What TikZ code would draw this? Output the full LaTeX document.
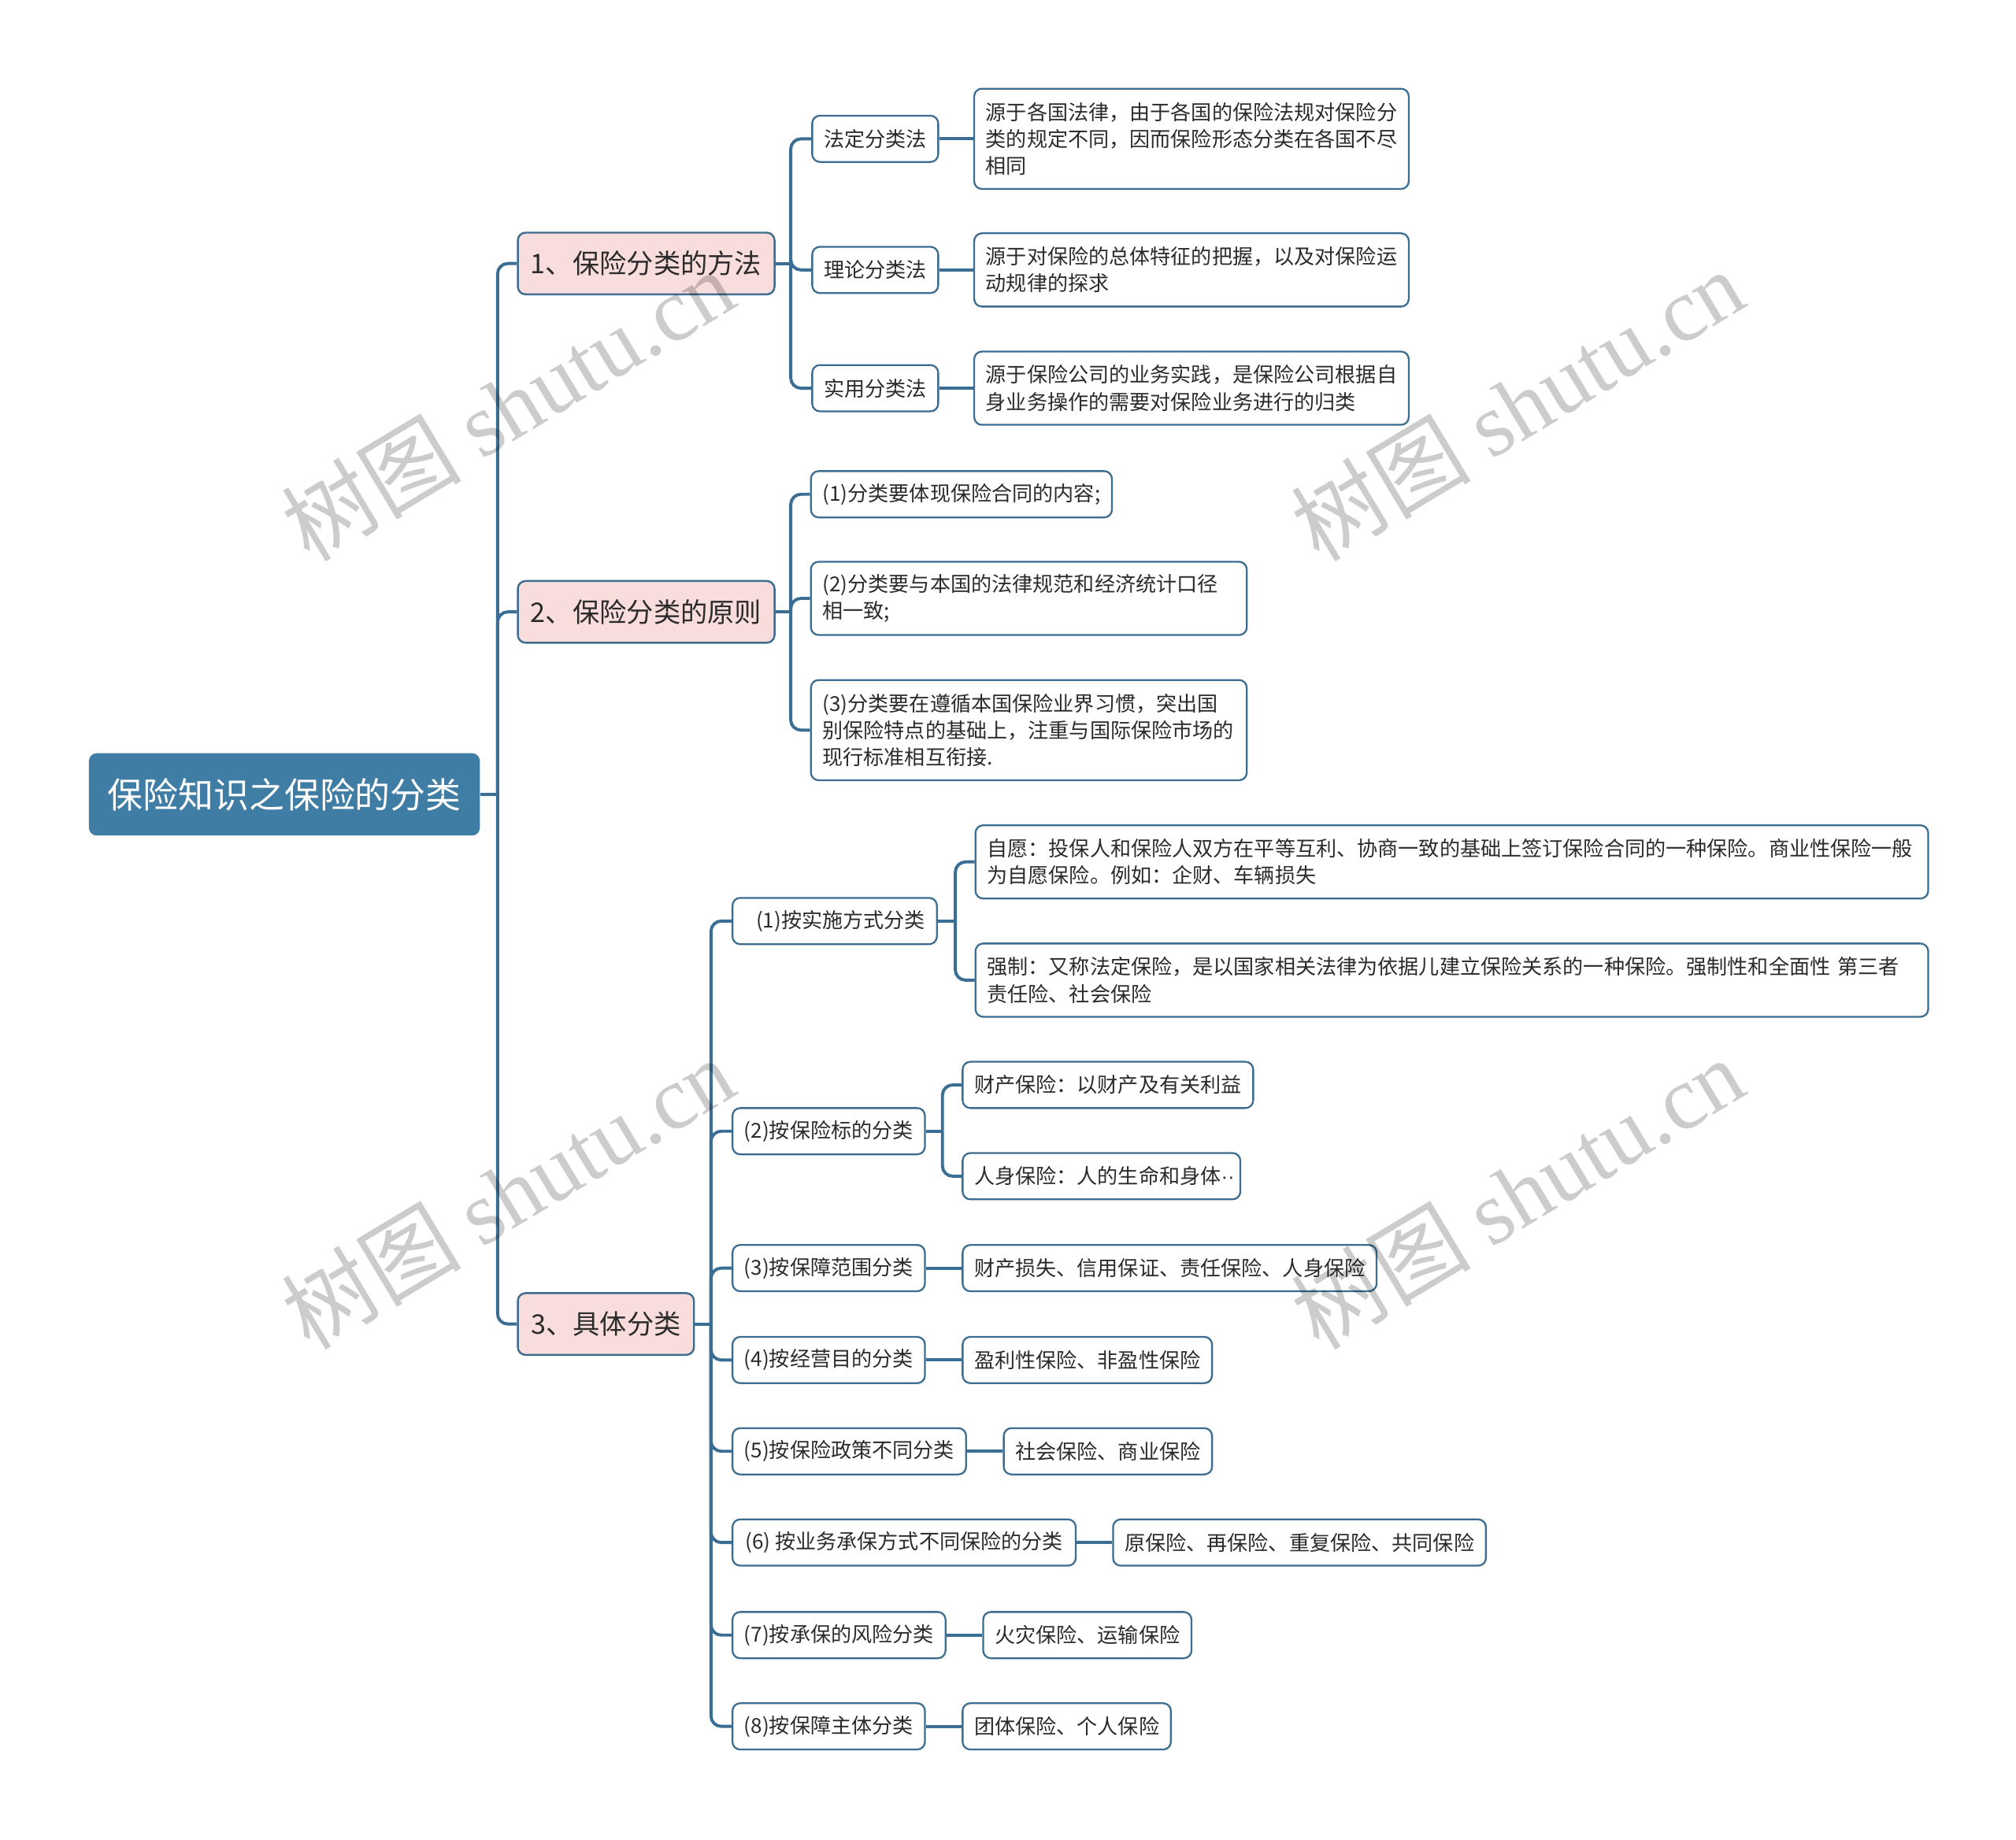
\documentclass[tikz,border=0pt]{standalone}
\usepackage{fontspec}
\setmainfont{Noto Sans CJK SC}
\newfontfamily\wmserif{Liberation Serif}
\newfontfamily\dotsans{Liberation Sans}
\newfontfamily\wmcjk{Noto Sans CJK SC}
\usetikzlibrary{calc}
\definecolor{lc}{HTML}{3A6E94}
\definecolor{bc}{HTML}{3D6D90}
\definecolor{rootc}{HTML}{407DA5}
\definecolor{pinkc}{HTML}{F9DCDC}
\definecolor{txtc}{HTML}{2B2B2B}
\tikzset{
  conn/.style={draw=lc, line width=2.4pt, rounded corners=8pt},
  rootbox/.style={fill=rootc, draw=none, rounded corners=6pt, text=white,
    font=\fontsize{27.5}{33}\selectfont, minimum width=304pt, minimum height=64pt,
    inner sep=0pt, anchor=west},
  lonebox/.style={fill=pinkc, draw=bc, line width=1.5pt, rounded corners=6pt, text=txtc,
    font=\fontsize{21}{25}\selectfont, minimum height=48pt, inner xsep=10pt, inner ysep=0pt, anchor=west},
  subbox/.style={fill=white, draw=bc, line width=1.4pt, rounded corners=6pt, text=txtc,
    font=\fontsize{16}{21}\selectfont, minimum height=36pt, inner xsep=9pt, inner ysep=0pt, anchor=west},
  leafbox/.style={subbox, align=left},
  wm/.style={text=black, text opacity=0.2, font=\fontsize{70}{70}\selectfont, rotate=31, inner sep=0pt}
}
\begin{document}
\begin{tikzpicture}[x=1pt,y=-1pt]
\useasboundingbox (0,0) rectangle (1568,1431);
\fill[white] (0,0) rectangle (1568,1431);

% root and level 1
\node[rootbox] (root) at (69,618) {保险知识之保险的分类};
\node[lonebox, minimum width=199pt] (n1) at (402,205) {1、保险分类的方法};
\node[lonebox, minimum width=199pt] (n2) at (402,476) {2、保险分类的原则};
\node[lonebox, minimum width=137pt] (n3) at (402,1030) {3、具体分类};

% branch 1
\node[subbox, minimum width=96pt] (a1) at (631,108) {法定分类法};
\node[subbox, minimum width=96pt] (a2) at (631,210) {理论分类法};
\node[subbox, minimum width=96pt] (a3) at (631,302) {实用分类法};
\node[leafbox, text width=320pt, minimum height=78pt] (a1L) at (757,108) {源于各国法律，由于各国的保险法规对保险分\\类的规定不同，因而保险形态分类在各国不尽\\相同};
\node[leafbox, text width=320pt, minimum height=57pt] (a2L) at (757,210) {源于对保险的总体特征的把握，以及对保险运\\动规律的探求};
\node[leafbox, text width=320pt, minimum height=57pt] (a3L) at (757,302) {源于保险公司的业务实践，是保险公司根据自\\身业务操作的需要对保险业务进行的归类};

% branch 2
\node[subbox, minimum width=234pt] (b1) at (630,384.5) {(1)分类要体现保险合同的内容;};
\node[leafbox, text width=321pt, minimum height=57pt] (b2) at (630,465.5) {(2)分类要与本国的法律规范和经济统计口径\\相一致;};
\node[leafbox, text width=321pt, minimum height=78pt] (b3) at (630,568) {(3)分类要在遵循本国保险业界习惯，突出国\\别保险特点的基础上，注重与国际保险市场的\\现行标准相互衔接.};

% branch 3
\node[subbox, text width=141pt, align=right] (c1) at (569,716.5) {(1)按实施方式分类};
\node[subbox, minimum width=149pt] (c2) at (569,880) {(2)按保险标的分类};
\node[subbox, minimum width=149pt] (c3) at (569,986.5) {(3)按保障范围分类};
\node[subbox, minimum width=149pt] (c4) at (569,1058) {(4)按经营目的分类};
\node[subbox, minimum width=181pt] (c5) at (569,1129) {(5)按保险政策不同分类};
\node[subbox, minimum width=267pt] (c6) at (569,1200) {(6) 按业务承保方式不同保险的分类};
\node[subbox, minimum width=165pt] (c7) at (569,1272) {(7)按承保的风险分类};
\node[subbox, minimum width=149pt] (c8) at (569,1343) {(8)按保障主体分类};

\node[leafbox, text width=723pt, minimum height=57pt] (c1a) at (758,670.5) {自愿：投保人和保险人双方在平等互利、协商一致的基础上签订保险合同的一种保险。商业性保险一般\\为自愿保险。例如：企财、车辆损失};
\node[leafbox, text width=723pt, minimum height=57pt] (c1b) at (758,762.5) {强制：又称法定保险，是以国家相关法律为依据儿建立保险关系的一种保险。强制性和全面性 第三者\\责任险、社会保险};
\node[subbox, minimum width=224pt] (c2a) at (748,844) {财产保险：以财产及有关利益};
\node[subbox, text width=198pt, align=left] (c2b) at (748,915) {人身保险：人的生命和身体{\dotsans ··}};
\node[subbox, minimum width=321pt] (c3a) at (748,986.5) {财产损失、信用保证、责任保险、人身保险};
\node[subbox, minimum width=193pt] (c4a) at (748,1058) {盈利性保险、非盈性保险};
\node[subbox, minimum width=161pt] (c5a) at (780,1129) {社会保险、商业保险};
\node[subbox, minimum width=289pt] (c6a) at (865,1200) {原保险、再保险、重复保险、共同保险};
\node[subbox, minimum width=160pt] (c7a) at (764,1272) {火灾保险、运输保险};
\node[subbox, minimum width=160pt] (c8a) at (748,1343) {团体保险、个人保险};

% junctions
\coordinate (j0) at (387,618);
\coordinate (j1) at (615,205);
\coordinate (j2) at (615,476);
\coordinate (j3) at (553,1030);
\coordinate (jc1) at (743,716.5);
\coordinate (jc2) at (733,880);

% connectors
\draw[conn] (root.east) -- (j0);
\foreach \c in {n1,n2,n3} \draw[conn] (j0) |- (\c.west);
\draw[conn] (n1.east) -- (j1);
\foreach \c in {a1,a2,a3} \draw[conn] (j1) |- (\c.west);
\draw[conn] (n2.east) -- (j2);
\foreach \c in {b1,b2,b3} \draw[conn] (j2) |- (\c.west);
\draw[conn] (n3.east) -- (j3);
\foreach \c in {c1,c2,c3,c4,c5,c6,c7,c8} \draw[conn] (j3) |- (\c.west);
\draw[conn] (c1.east) -- (jc1);
\foreach \c in {c1a,c1b} \draw[conn] (jc1) |- (\c.west);
\draw[conn] (c2.east) -- (jc2);
\foreach \c in {c2a,c2b} \draw[conn] (jc2) |- (\c.west);
\draw[conn] (a1.east) -- (a1.east -| a1L.west);
\draw[conn] (a2.east) -- (a2.east -| a2L.west);
\draw[conn] (a3.east) -- (a3.east -| a3L.west);
\draw[conn] (c3.east) -- (c3.east -| c3a.west);
\draw[conn] (c4.east) -- (c4.east -| c4a.west);
\draw[conn] (c5.east) -- (c5.east -| c5a.west);
\draw[conn] (c6.east) -- (c6.east -| c6a.west);
\draw[conn] (c7.east) -- (c7.east -| c7a.west);
\draw[conn] (c8.east) -- (c8.east -| c8a.west);

% watermarks
\node[wm] (w1) at (395,315) {\wmcjk 树图\ \wmserif shutu.cn};
\node[wm] (w2) at (1180,315) {\wmcjk 树图\ \wmserif shutu.cn};
\node[wm] (w3) at (395,928) {\wmcjk 树图\ \wmserif shutu.cn};
\node[wm] (w4) at (1180,928) {\wmcjk 树图\ \wmserif shutu.cn};
\end{tikzpicture}
\end{document}
